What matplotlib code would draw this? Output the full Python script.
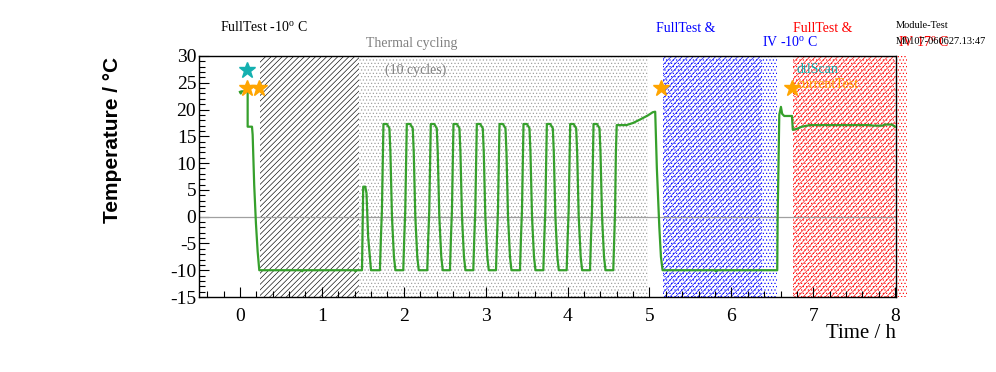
"""Module temperature during the full test sequence (ROOT-style canvas)."""

import matplotlib.pyplot as plt
import numpy as np

plt.rcParams["font.family"] = "Liberation Serif"
plt.rcParams["mathtext.fontset"] = "custom"
plt.rcParams["mathtext.rm"] = "Liberation Serif"
plt.rcParams["axes.unicode_minus"] = False
plt.rcParams["hatch.linewidth"] = 0.45

LINE_GREEN = "#36a02c"
TEAL = "#14b0b0"
ORANGE = "#ffa500"

# ---------------------------------------------------------------------------
# Temperature trace (time in h, temperature in deg C)
# ---------------------------------------------------------------------------
start_t = [0.0, 0.01, 0.02, 0.094, 0.094, 0.147, 0.155, 0.174, 0.195, 0.216,
           0.236, 0.75, 0.76, 0.77, 1.40, 1.41, 1.42, 1.49, 1.505, 1.53,
           1.545, 1.565, 1.60]
start_T = [23.3, 23.0, 23.4, 23.4, 16.8, 16.8, 15.3, 5.9, -1.2, -6.5,
           -10.0, -10.0, -10.2, -10.0, -10.0, -10.2, -10.0, -10.0, 5.6, 5.6,
           4.4, -3.7, -10.0]

# one thermal cycle, relative to the start of its rising edge
cycle_offsets = [0.0, 0.012, 0.024, 0.037, 0.043, 0.085, 0.116, 0.128, 0.147, 0.171, 0.189]
cycle_temps = [-10.0, -4.0, 1.0, 12.0, 17.3, 17.3, 16.5, 12.0, 0.0, -7.5, -10.0]
cycle_starts = [1.709, 1.994, 2.287, 2.564, 2.849, 3.126, 3.419, 3.704, 3.989, 4.274]

end_t = [4.558, 4.57, 4.58, 4.59, 4.60, 4.72, 4.80, 4.88, 4.98, 5.04, 5.07,
         5.09, 5.12, 5.14, 5.16, 5.80, 5.81, 5.82, 6.56, 6.565, 6.585, 6.605,
         6.62, 6.645, 6.74, 6.75, 6.80, 6.86, 6.96, 7.70, 7.72, 7.85, 7.87,
         7.96, 8.0]
end_T = [-10.0, -4.0, 1.0, 12.0, 17.1, 17.1, 17.5, 18.1, 18.9, 19.5, 19.6,
         9.1, -1.9, -7.5, -10.0, -10.0, -10.2, -10.0, -10.0, 0.0, 19.0, 20.5,
         19.2, 18.8, 18.8, 16.2, 16.4, 16.8, 17.1, 17.1, 17.0, 17.0, 17.2,
         17.2, 16.8]

# test phases: (start h, end h)
fulltest_cold = (0.244, 1.45)
thermal_cycling = (1.45, 4.98)
iv_cold_hatch = (5.165, 6.37)
iv_cold_dots = (5.165, 6.56)
iv_warm_hatch = (6.75, 8.0)
iv_warm_dots = (6.75, 8.14)

# markers for individual tests
dtlscan_t, dtlscan_T = [0.085], [27.4]
current_t = [0.085, 0.23, 5.14, 6.74]
current_T = [24.0, 24.0, 24.0, 24.0]

# ---------------------------------------------------------------------------
# Assemble the trace
# ---------------------------------------------------------------------------
time = list(start_t)
temp = list(start_T)
for t0 in cycle_starts:
    time += [t0 + dt for dt in cycle_offsets]
    temp += cycle_temps
time += end_t
temp += end_T

# ---------------------------------------------------------------------------
# Plot
# ---------------------------------------------------------------------------
W, H = 996, 372
fig = plt.figure(figsize=(W / 100, H / 100), dpi=100)
ax = fig.add_axes([199 / W, 1 - 297 / H, (896 - 199) / W, (297 - 56) / H])

ax.axvspan(*fulltest_cold, facecolor="none", edgecolor="black", lw=0, hatch="//////")
ax.axvspan(*thermal_cycling, facecolor="none", edgecolor="#9a9a9a", lw=0, hatch=".....")
ax.axvspan(*iv_cold_dots, facecolor="none", edgecolor="blue", lw=0, hatch=".....")
ax.axvspan(*iv_cold_hatch, facecolor="none", edgecolor="blue", lw=0, hatch="//////")
ax.axvspan(*iv_warm_dots, facecolor="none", edgecolor="red", lw=0, hatch=".....",
           clip_on=False)
ax.axvspan(*iv_warm_hatch, facecolor="none", edgecolor="red", lw=0, hatch="//////")

ax.axhline(0, color="#a0a0a0", lw=0.9, zorder=2)
ax.plot(time, temp, color=LINE_GREEN, lw=1.6, zorder=3)

ax.plot(dtlscan_t, dtlscan_T, ls="none", marker="*", ms=12, color=TEAL, zorder=4)
ax.plot(current_t, current_T, ls="none", marker="*", ms=12, color=ORANGE, zorder=4)

ax.text(2.14, 27.4, "(10 cycles)", color="#808080", fontsize=10, ha="center", va="center")
ax.text(6.79, 27.4, "dtlScan", color=TEAL, fontsize=10, ha="left", va="center")
ax.text(6.79, 24.6, "currentTest", color=ORANGE, fontsize=10, ha="left", va="center")

ax.set_xlim(-0.5, 8.01)
ax.set_ylim(-15, 30)
ax.set_xticks(np.arange(0, 9, 1))
ax.set_xticks(np.arange(-0.4, 8.01, 0.2), minor=True)
ax.set_yticks(np.arange(-15, 31, 5))
ax.set_yticks(np.arange(-15, 31, 1), minor=True)
ax.tick_params(which="both", direction="in", labelsize=14, top=False, right=False)
ax.tick_params(which="major", length=7, width=0.8)
ax.tick_params(which="minor", length=4, width=0.8)
ax.tick_params(axis="x", pad=8)
ax.tick_params(axis="y", pad=2)
for sp in ax.spines.values():
    sp.set_linewidth(1.0)

fig.text(896 / W, 1 - 333 / H, "Time / h", fontsize=15, ha="right", va="center")
fig.text(112 / W, 1 - 140 / H, "Temperature / °C", fontsize=15, fontweight="bold",
         family="Liberation Sans", rotation=90, ha="center", va="center")

fig.text(220 / W, 1 - 28 / H, r"FullTest -10$^{\mathrm{o}}$ C", fontsize=10, va="center")
fig.text(366 / W, 1 - 44 / H, "Thermal cycling", fontsize=10, color="#808080", va="center")
fig.text(656 / W, 1 - 28 / H, "FullTest &", fontsize=10, color="blue", va="center")
fig.text(762 / W, 1 - 43 / H, r"IV -10$^{\mathrm{o}}$ C", fontsize=10, color="blue", va="center")
fig.text(793 / W, 1 - 28 / H, "FullTest &", fontsize=10, color="red", va="center")
fig.text(898 / W, 1 - 43 / H, r"IV 17$^{\mathrm{o}}$ C", fontsize=10, color="red", va="center")
fig.text(896 / W, 1 - 25 / H, "Module-Test", fontsize=7.5, va="center")
fig.text(896 / W, 1 - 41 / H, "M0107-060627.13:47", fontsize=7.5, va="center")

fig.savefig("out.png", dpi=100)
